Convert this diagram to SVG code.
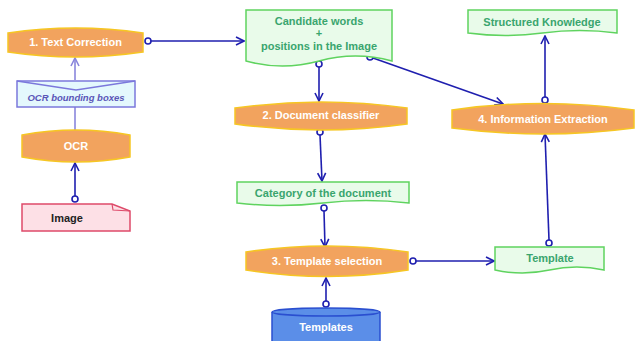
<svg xmlns="http://www.w3.org/2000/svg" width="635" height="341" viewBox="0 0 635 341">
<defs>
<style>
.proc{fill:#f2a35e;stroke:#f6c623;stroke-width:1.5}
.doc{fill:#e9fbea;stroke:#5fd35f;stroke-width:1.5}
.wt{font-family:"Liberation Sans",Arial,sans-serif;font-weight:bold;font-size:11px;fill:#ffffff;text-anchor:middle}
.gt{font-family:"Liberation Sans",Arial,sans-serif;font-weight:bold;font-size:11px;fill:#3aa56e;text-anchor:middle}
.c{stroke:#1f1faf;stroke-width:1.6;fill:none}
.cl{stroke:#8a86dc;stroke-width:1.6;fill:none}
.dot{fill:#ffffff;stroke:#1f1faf;stroke-width:1.6}
</style>
<marker id="ah" markerWidth="10" markerHeight="10" viewBox="-1 -5 10 10" refX="8" refY="0" orient="auto" markerUnits="userSpaceOnUse">
<path d="M0,-4 L8,0 L0,4" fill="none" stroke="#1f1faf" stroke-width="1.6"/>
</marker>
<marker id="ahl" markerWidth="10" markerHeight="10" viewBox="-1 -5 10 10" refX="8" refY="0" orient="auto" markerUnits="userSpaceOnUse">
<path d="M0,-4 L8,0 L0,4" fill="none" stroke="#8a86dc" stroke-width="1.6"/>
</marker>
</defs>
<rect width="635" height="341" fill="#ffffff"/>

<g id="connectors">
<line class="c" x1="151" y1="41" x2="244" y2="41" marker-end="url(#ah)"/>
<circle class="dot" cx="148" cy="41" r="3"/>
<line class="c" x1="319" y1="67" x2="319" y2="101" marker-end="url(#ah)"/>
<circle class="dot" cx="319" cy="64" r="3"/>
<line class="c" x1="373" y1="58" x2="503" y2="104" marker-end="url(#ah)"/>
<circle class="dot" cx="370" cy="57" r="3"/>
<line class="c" x1="320" y1="135" x2="322" y2="181" marker-end="url(#ah)"/>
<circle class="dot" cx="320" cy="132" r="3"/>
<line class="c" x1="324" y1="211" x2="325" y2="247" marker-end="url(#ah)"/>
<circle class="dot" cx="324" cy="208" r="3"/>
<line class="c" x1="326" y1="301" x2="326" y2="278" marker-end="url(#ah)"/>
<circle class="dot" cx="326" cy="304" r="3"/>
<line class="c" x1="416" y1="261" x2="494" y2="261" marker-end="url(#ah)"/>
<circle class="dot" cx="413" cy="261" r="3"/>
<line class="c" x1="549" y1="240" x2="545" y2="134" marker-end="url(#ah)"/>
<circle class="dot" cx="549" cy="243" r="3"/>
<line class="c" x1="545" y1="97" x2="545" y2="36" marker-end="url(#ah)"/>
<circle class="dot" cx="545" cy="100" r="3"/>
<line class="c" x1="75" y1="196" x2="75" y2="163" marker-end="url(#ah)"/>
<circle class="dot" cx="75" cy="199" r="3"/>
<line class="cl" x1="75" y1="130" x2="75" y2="107"/>
<line class="cl" x1="75" y1="80" x2="75" y2="58" marker-end="url(#ahl)"/>
</g>

<g id="textCorrection">
<path class="proc" d="M8,33 Q75.5,23 143,33 L143,52 Q75.5,62 8,52 Z"/>
<text class="wt" x="75.5" y="46">1. Text Correction</text>
</g>

<g id="ocrBoxes">
<path d="M17,81 H135 V107 H17 Z" fill="#e4f8fd" stroke="#7b78dc" stroke-width="1.5"/>
<path d="M17,81 L76,90 L135,81" fill="none" stroke="#7b78dc" stroke-width="1.5"/>
<text x="76" y="101" font-family="Liberation Sans,Arial,sans-serif" font-weight="bold" font-style="italic" font-size="9.5" fill="#5a56b8" text-anchor="middle">OCR bounding boxes</text>
</g>

<g id="ocr">
<path class="proc" d="M22,135 Q76,125 130,135 L130,157 Q76,167 22,157 Z"/>
<text class="wt" x="76" y="150">OCR</text>
</g>

<g id="image">
<path d="M22,204 H112 L130,211 V231 H22 Z" fill="#fde0e6" stroke="#de4a6a" stroke-width="1.5"/>
<path d="M112,204 L113,210 L130,211" fill="none" stroke="#de4a6a" stroke-width="1.2"/>
<text x="67" y="222" font-family="Liberation Sans,Arial,sans-serif" font-weight="bold" font-size="11" fill="#222222" text-anchor="middle">Image</text>
</g>

<g id="candidate">
<path class="doc" d="M246,10 H392 V61 Q355.5,51 319,61 Q282.5,71 246,61 Z"/>
<text class="gt" x="319" y="25">Candidate words</text>
<text class="gt" x="319" y="37">+</text>
<text class="gt" x="319" y="50">positions in the Image</text>
</g>

<g id="docClassifier">
<path class="proc" d="M235,108 Q321,96 407,108 L407,124 Q321,136 235,124 Z"/>
<text class="wt" x="321" y="119">2. Document classifier</text>
</g>

<g id="category">
<path class="doc" d="M237,182 H409 V203 Q366,198 323,203 Q280,208 237,203 Z"/>
<text class="gt" x="323" y="197">Category of the document</text>
</g>

<g id="templateSelection">
<path class="proc" d="M246,252 Q327,240 408,252 L408,270 Q327,283 246,270 Z"/>
<text class="wt" x="327" y="265">3. Template selection</text>
</g>

<g id="templates">
<path d="M272,312 V343 H380 V312" fill="#5b8ee8" stroke="#2a4fd0" stroke-width="1.5"/>
<ellipse cx="326" cy="312" rx="54" ry="4" fill="#5b8ee8" stroke="#2a4fd0" stroke-width="1.5"/>
<text class="wt" x="326" y="331">Templates</text>
</g>

<g id="template">
<path class="doc" d="M495,247 H604 V270 Q576.75,264 549.5,270 Q522.25,276 495,270 Z"/>
<text class="gt" x="550" y="262">Template</text>
</g>

<g id="infoExtraction">
<path class="proc" d="M452,110 Q543,97 634,110 L634,128 Q543,140 452,128 Z"/>
<text class="wt" x="543" y="123">4. Information Extraction</text>
</g>

<g id="structured">
<path class="doc" d="M468,10 H617 V33 Q579.75,28 542.5,33 Q505.25,38 468,33 Z"/>
<text class="gt" x="542" y="26">Structured Knowledge</text>
</g>
</svg>
